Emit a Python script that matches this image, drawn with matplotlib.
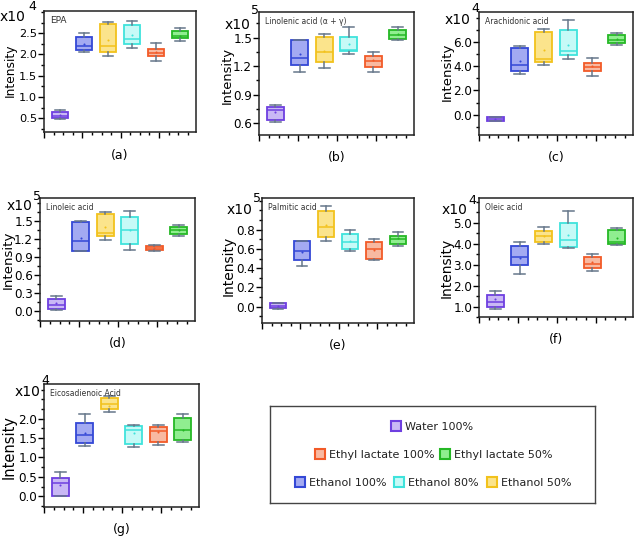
import numpy as np
import matplotlib
matplotlib.use("Agg")
import matplotlib.pyplot as plt
from matplotlib import font_manager
from matplotlib.ticker import MultipleLocator, FixedLocator, FormatStrFormatter

plt.rcParams['font.family'] = ['DejaVu Sans']

# condensed face for the tick numbers, if the system has one
condensed = any(f.name == 'DejaVu Sans' and f.stretch in ('condensed', 'semi-condensed', 600)
                for f in font_manager.fontManager.ttflist)

W, H = 638, 536

# solvents in plotting order
solvents = ['Water 100%', 'Ethanol 100%', 'Ethanol 50%', 'Ethanol 80%',
            'Ethyl lactate 100%', 'Ethyl lactate 50%']
edge_colors = ['#6E3FE0', '#3448D6', '#F2C21C', '#3FE3DC', '#F25A28', '#25B825']
fill_colors = ['#C9B8F5', '#A3AAF2', '#FBE48C', '#C6FAF7', '#F8B9A1', '#90EE90']

# rows per solvent: whisker low, Q1, median, Q3, whisker high, mean
epa = [[0.49, 0.51, 0.55, 0.66, 0.69, 0.58],
       [2.06, 2.10, 2.19, 2.41, 2.51, 2.25],
       [1.96, 2.06, 2.21, 2.72, 2.76, 2.33],
       [2.15, 2.25, 2.37, 2.70, 2.78, 2.45],
       [1.85, 1.97, 2.04, 2.13, 2.27, 2.06],
       [2.32, 2.39, 2.43, 2.55, 2.63, 2.44]]
linolenic = [[0.61, 0.635, 0.74, 0.775, 0.79, 0.72],
             [1.14, 1.21, 1.29, 1.47, 1.48, 1.33],
             [1.18, 1.24, 1.35, 1.51, 1.54, 1.36],
             [1.33, 1.36, 1.37, 1.51, 1.61, 1.43],
             [1.14, 1.19, 1.25, 1.31, 1.35, 1.26],
             [1.48, 1.49, 1.525, 1.585, 1.61, 1.54]]
arachidonic = [[-0.50, -0.52, -0.33, -0.16, -0.20, -0.33],
               [3.34, 3.59, 4.14, 5.50, 5.64, 4.41],
               [4.08, 4.36, 4.60, 6.82, 7.07, 5.32],
               [4.58, 4.90, 5.26, 6.96, 7.84, 5.78],
               [3.18, 3.62, 3.95, 4.30, 4.71, 4.00],
               [5.78, 5.95, 6.19, 6.55, 6.77, 6.27]]
linoleic = [[0.017, 0.045, 0.10, 0.20, 0.25, 0.14],
            [1.01, 1.01, 1.18, 1.49, 1.50, 1.23],
            [1.19, 1.25, 1.30, 1.62, 1.65, 1.40],
            [1.02, 1.12, 1.35, 1.57, 1.68, 1.36],
            [1.01, 1.02, 1.05, 1.09, 1.11, 1.05],
            [1.25, 1.29, 1.36, 1.40, 1.44, 1.35]]
palmitic = [[-0.02, -0.017, 0.007, 0.035, 0.04, 0.01],
            [0.42, 0.49, 0.58, 0.68, 0.685, 0.57],
            [0.68, 0.72, 0.83, 0.99, 1.05, 0.85],
            [0.58, 0.60, 0.67, 0.76, 0.80, 0.68],
            [0.49, 0.50, 0.60, 0.67, 0.70, 0.59],
            [0.63, 0.65, 0.70, 0.74, 0.78, 0.71]]
oleic = [[0.87, 0.98, 1.23, 1.55, 1.74, 1.36],
         [2.57, 2.98, 3.38, 3.90, 4.09, 3.30],
         [3.98, 4.06, 4.34, 4.58, 4.79, 4.34],
         [3.79, 3.85, 4.19, 4.98, 5.55, 4.42],
         [2.68, 2.85, 3.04, 3.36, 3.49, 3.14],
         [3.93, 3.98, 4.06, 4.63, 4.74, 4.26]]
eicosadienoic = [[0.0, 0.0, 0.35, 0.48, 0.63, 0.29],
                 [1.30, 1.37, 1.58, 1.89, 2.12, 1.63],
                 [2.17, 2.26, 2.38, 2.54, 2.58, 2.34],
                 [1.28, 1.35, 1.71, 1.82, 1.83, 1.63],
                 [1.32, 1.41, 1.69, 1.78, 1.84, 1.65],
                 [1.39, 1.44, 1.70, 2.03, 2.13, 1.71]]

# panel: data, title, exponent, panel label, yticks, minor step, ylim
panels = [
    (epa, 'EPA', '4', '(a)', [0.5, 1.0, 1.5, 2.0, 2.5], 0.25, (0.18, 3.02)),
    (linolenic, 'Linolenic acid (\u03b1 + \u03b3)', '5', '(b)', [0.6, 0.9, 1.2, 1.5], 0.15, (0.475, 1.77)),
    (arachidonic, 'Arachidonic acid', '4', '(c)', [0.0, 2.0, 4.0, 6.0], 1.0, (-1.67, 8.47)),
    (linoleic, 'Linoleic acid', '5', '(d)', [0.0, 0.3, 0.6, 0.9, 1.2, 1.5], 0.15, (-0.16, 1.89)),
    (palmitic, 'Palmitic acid', '5', '(e)', [0.0, 0.2, 0.4, 0.6, 0.8], 0.1, (-0.17, 1.13)),
    (oleic, 'Oleic acid', '4', '(f)', [1.0, 2.0, 3.0, 4.0, 5.0], 0.5, (0.5, 6.17)),
    (eicosadienoic, 'Eicosadienoic Acid', '4', '(g)', [0.0, 0.5, 1.0, 1.5, 2.0], 0.25, (-0.28, 2.90)),
]

# layout in pixels: axes (l, t, r, b), "x10" (right edge dx, dy, exponent dy), "Intensity" (x, y, size)
rects = [(44, 11, 196, 132), (259, 12, 414, 135), (479, 12, 633, 135),
         (40, 198, 195, 321), (262, 198, 414, 323), (479, 198, 633, 317),
         (44, 384, 199, 507)]
scale_pos = [(-19, 6, -4), (-9, 13, -2), (-9, 8, -4), (-8, 8, -2),
             (-10, 12, 0), (-12, 12, 2), (-4, 8, -4)]
ylab_pos = [(10, 70, 8.8), (227, 75, 9.4), (447, 72, 9.6), (8, 260, 9.6),
            (229, 266, 10), (447, 268, 10), (9, 447, 10.5)]


def fx(x):
    return x / W


def fy(y):
    return 1 - y / H


fig = plt.figure(figsize=(W / 100, H / 100), dpi=100)

for k, (rows, title, expo, lab, yt, ystep, ylim) in enumerate(panels):
    l, t, r, b = rects[k]
    ax = fig.add_axes([fx(l), fy(b), (r - l) / W, (b - t) / H])
    stats = [dict(whislo=v[0], q1=v[1], med=v[2], q3=v[3], whishi=v[4], mean=v[5]) for v in rows]
    bp = ax.bxp(stats, positions=range(1, 7), widths=0.7, patch_artist=True,
                showmeans=True, showfliers=False, capwidths=0.45,
                whiskerprops=dict(color='#66778a', lw=1.1),
                capprops=dict(color='#66778a', lw=1.1),
                meanprops=dict(marker='o', markersize=1.5, markeredgewidth=0))
    for i in range(6):
        bp['boxes'][i].set_facecolor(fill_colors[i])
        bp['boxes'][i].set_edgecolor(edge_colors[i])
        bp['boxes'][i].set_linewidth(1.3)
        bp['medians'][i].set_color(edge_colors[i])
        bp['medians'][i].set_linewidth(1.1)
        bp['means'][i].set_markerfacecolor(edge_colors[i])

    ax.set_xlim(0.33, 6.67)
    ax.set_xticks(np.arange(0.33, 6.67, 1.6))
    ax.xaxis.set_minor_locator(FixedLocator(np.arange(0.33, 6.67, 0.4)))
    ax.set_xticklabels([])
    ax.set_ylim(*ylim)
    ax.yaxis.set_major_locator(FixedLocator(yt))
    ax.yaxis.set_minor_locator(MultipleLocator(ystep))
    ax.yaxis.set_major_formatter(FormatStrFormatter('%.1f'))
    ax.tick_params(axis='both', which='major', direction='out', length=4, width=1,
                   labelsize=8.2, pad=1)
    ax.tick_params(axis='both', which='minor', direction='out', length=2.5, width=1)
    if k > 0 and condensed:
        for tl in ax.get_yticklabels():
            tl.set_fontstretch('condensed')
            tl.set_fontsize(9.5)
    for s in ax.spines.values():
        s.set_linewidth(1.1)
        s.set_color('#222222')

    ax.text(0.04, 0.96, title, transform=ax.transAxes, ha='left', va='top',
            fontsize=5.5 if k > 0 else 6.5, color='#333333')

    lx, ly, ls = ylab_pos[k]
    fig.text(fx(lx), fy(ly), 'Intensity', rotation=90, ha='center', va='center', fontsize=ls)

    # scale factor above the y axis
    dx, dy, ey = scale_pos[k]
    fig.text(fx(l + dx), fy(t + dy), 'x10', ha='right', va='center', fontsize=10)
    fig.text(fx(l + dx + (3 if k == 0 else 1)), fy(t + ey), expo, ha='left', va='center', fontsize=9)

    fig.text(fx((l + r) / 2), fy(b + 23), lab, ha='center', va='center', fontsize=9)

# legend box
lax = fig.add_axes([fx(270), fy(503), (595 - 270) / W, (503 - 406) / H])
lax.set_xlim(270, 595)
lax.set_ylim(503, 406)
lax.set_xticks([])
lax.set_yticks([])
for s in lax.spines.values():
    s.set_linewidth(1.0)
    s.set_color('#444444')

legend_rows = [[(0, 396)],
               [(4, 320), (5, 445)],
               [(1, 300), (3, 399), (2, 492)]]
row_y = [426, 454, 482]
for entries, yy in zip(legend_rows, row_y):
    for idx, xx in entries:
        lax.plot([xx], [yy], marker='s', markersize=7.5, markerfacecolor=fill_colors[idx],
                 markeredgecolor=edge_colors[idx], markeredgewidth=1.5)
        lax.text(xx + 9, yy + 1, solvents[idx], ha='left', va='center',
                 fontsize=8, color='#222222')

fig.savefig('out.png', dpi=100)
